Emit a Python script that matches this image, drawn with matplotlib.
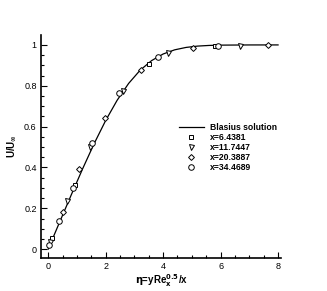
import numpy as np
import matplotlib
matplotlib.use('Agg')
import matplotlib.pyplot as plt
from matplotlib.ticker import MultipleLocator
from matplotlib.legend_handler import HandlerLine2D

plt.rcParams['font.family'] = ['Liberation Sans', 'DejaVu Sans']

# Blasius solution f'(eta)
eta_bl = [0.0, 0.4, 0.8, 1.2, 1.6, 2.0, 2.4, 2.8, 3.2, 3.6, 4.0, 4.4, 4.8, 5.2, 5.6, 6.0, 7.0, 8.0]
u_bl = [0.0, 0.1328, 0.2647, 0.3938, 0.5168, 0.6298, 0.7290, 0.8115, 0.8761, 0.9233,
        0.9555, 0.9759, 0.9878, 0.9943, 0.9975, 0.9990, 0.9999, 1.0]

# x=6.4381
eta_1 = [0.13, 0.92, 3.51, 5.8]
u_1 = [0.055, 0.315, 0.907, 0.995]
# x=11.7447
eta_2 = [0.08, 0.65, 1.45, 2.59, 4.18, 6.68]
u_2 = [0.035, 0.235, 0.50, 0.776, 0.96, 0.997]
# x=20.3887
eta_3 = [0.5, 1.08, 1.98, 3.23, 5.04, 7.66]
u_3 = [0.18, 0.39, 0.64, 0.877, 0.985, 1.0]
# x=34.4689
eta_4 = [0.03, 0.37, 0.85, 1.51, 2.47, 3.83, 5.9]
u_4 = [0.02, 0.14, 0.30, 0.52, 0.765, 0.94, 0.995]

labels = ['Blasius solution', 'x=6.4381', 'x=11.7447', 'x=20.3887', 'x=34.4689']


# legend marker drawn near the left end of the handle (tecplot look)
class LeftMarker(HandlerLine2D):
    def get_xdata(self, legend, xdescent, ydescent, width, height, fontsize):
        xdata = [-xdescent, -xdescent + width]
        xdata_marker = [-xdescent + 0.2 * width]
        return xdata, xdata_marker


fig = plt.figure(figsize=(3.27, 2.91), dpi=100)
ax = fig.add_axes([0.125, 0.113, 0.735, 0.767])

ax.plot(eta_bl, u_bl, color='black', lw=0.9, label=labels[0])
mk = dict(ls='none', mfc='white', mec='black', mew=0.7, color='black')
ax.plot(eta_1, u_1, marker='s', ms=3.2, label=labels[1], **mk)
ax.plot(eta_2, u_2, marker='v', ms=3.6, label=labels[2], **mk)
ax.plot(eta_3, u_3, marker='D', ms=3.0, label=labels[3], **mk)
ax.plot(eta_4, u_4, marker='o', ms=4.0, label=labels[4], **mk)

ax.set_xlim(-0.254, 8.11)
ax.set_ylim(-0.044, 1.049)

ax.xaxis.set_major_locator(MultipleLocator(2))
ax.xaxis.set_minor_locator(MultipleLocator(0.5))
ax.yaxis.set_major_locator(MultipleLocator(0.2))
ax.yaxis.set_minor_locator(MultipleLocator(0.05))
ax.tick_params(which='both', direction='in', labelsize=6.5, width=0.8, pad=3)
ax.tick_params(which='major', length=4)
ax.tick_params(which='minor', length=2)
ax.set_xticks([0, 2, 4, 6, 8])
ax.set_xticklabels(['0', '2', '4', '6', '8'])
ax.set_yticks([0, 0.2, 0.4, 0.6, 0.8, 1.0])
ax.set_yticklabels(['0', '0.2', '0.4', '0.6', '0.8', '1'])

ax.spines['top'].set_visible(False)
ax.spines['right'].set_visible(False)
ax.spines['left'].set_linewidth(1.2)
ax.spines['bottom'].set_linewidth(1.2)

ax.set_xlabel(r'$\mathbf{\eta}$=yRe$_\mathbf{x}^\mathbf{0.5}$/x', fontsize=7, fontweight='bold', labelpad=1)
ax.set_ylabel(r'U/U$_\mathbf{\infty}$', fontsize=7, fontweight='bold')
ax.yaxis.set_label_coords(-0.09, 0.5)

leg = ax.legend(loc='upper left', bbox_to_anchor=(0.555, 0.625), frameon=False,
                prop={'weight': 'bold', 'size': 6.2}, handlelength=3.0,
                handletextpad=0.7, labelspacing=0.12, borderpad=0,
                handler_map={plt.Line2D: LeftMarker(numpoints=1)})

fig.savefig('out.png', dpi=100)
